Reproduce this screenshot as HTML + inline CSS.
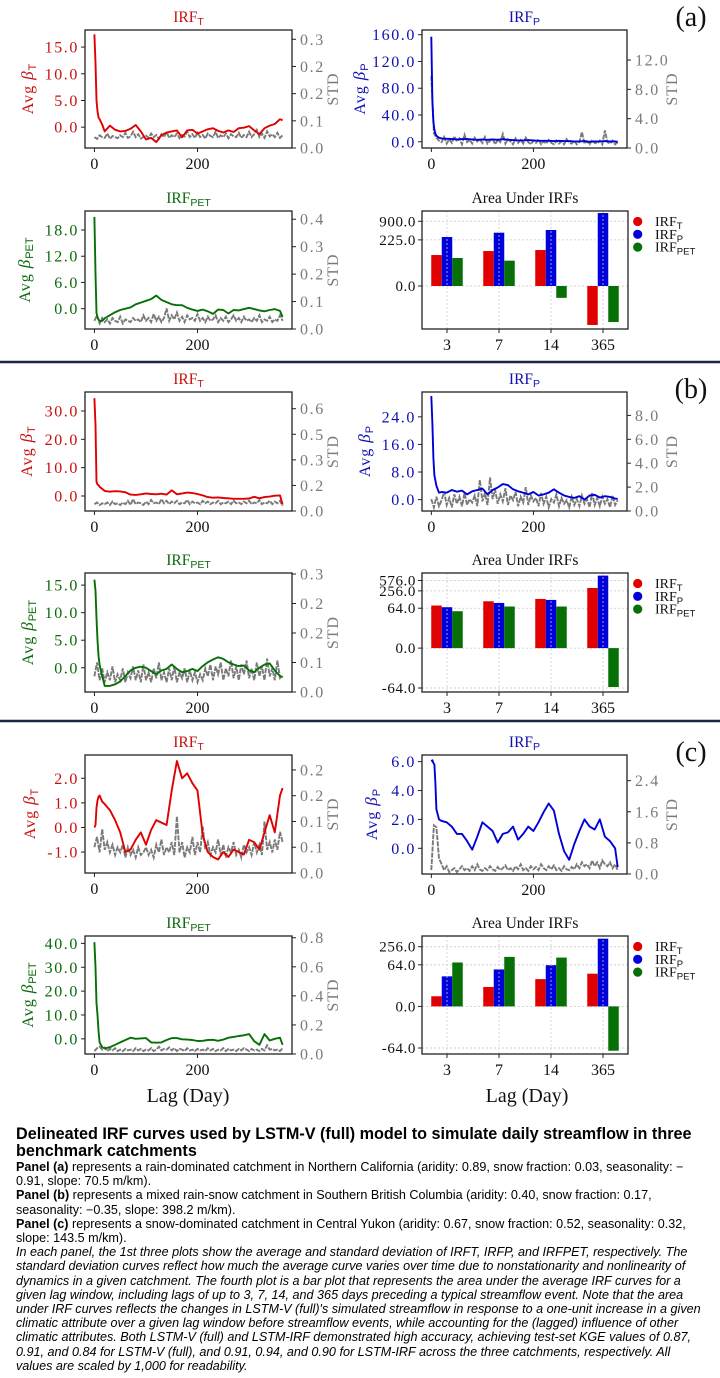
<!DOCTYPE html>
<html><head><meta charset="utf-8">
<style>
html,body{margin:0;padding:0;background:#fff;}
#wrap{position:relative;width:720px;height:1378px;overflow:hidden;background:#fff;}
svg text{font-family:"Liberation Serif",serif;}
#cap{position:absolute;left:16px;top:1126px;width:704px;font-family:"Liberation Sans",sans-serif;color:#000;white-space:nowrap;}
#cap .t{font-weight:bold;font-size:16.2px;line-height:17px;letter-spacing:0px;}
#cap .b{font-size:12.6px;line-height:14.2px;letter-spacing:0px;}
#cap i{font-style:italic;}
</style></head>
<body>
<div id="wrap">
<svg id="fig" width="720" height="1115" viewBox="0 0 720 1115" xmlns="http://www.w3.org/2000/svg" style="position:absolute;left:0;top:0"></svg>
<div id="cap">
<div class="t">Delineated IRF curves used by LSTM-V (full) model to simulate daily streamflow in three<br>benchmark catchments</div>
<div class="b">
<b>Panel (a)</b> represents a rain-dominated catchment in Northern California (aridity: 0.89, snow fraction: 0.03, seasonality: −<br>0.91, slope: 70.5 m/km).<br>
<b>Panel (b)</b> represents a mixed rain-snow catchment in Southern British Columbia (aridity: 0.40, snow fraction: 0.17,<br>seasonality: −0.35, slope: 398.2 m/km).<br>
<b>Panel (c)</b> represents a snow-dominated catchment in Central Yukon (aridity: 0.67, snow fraction: 0.52, seasonality: 0.32,<br>slope: 143.5 m/km).<br>
<i>In each panel, the 1st three plots show the average and standard deviation of IRFT, IRFP, and IRFPET, respectively. The<br>standard deviation curves reflect how much the average curve varies over time due to nonstationarity and nonlinearity of<br>dynamics in a given catchment. The fourth plot is a bar plot that represents the area under the average IRF curves for a<br>given lag window, including lags of up to 3, 7, 14, and 365 days preceding a typical streamflow event. Note that the area<br>under IRF curves reflects the changes in LSTM-V (full)'s simulated streamflow in response to a one-unit increase in a given<br>climatic attribute over a given lag window before streamflow events, while accounting for the (lagged) influence of other<br>climatic attributes. Both LSTM-V (full) and LSTM-IRF demonstrated high accuracy, achieving test-set KGE values of 0.87,<br>0.91, and 0.84 for LSTM-V (full), and 0.91, 0.94, and 0.90 for LSTM-IRF across the three catchments, respectively. All<br>values are scaled by 1,000 for readability.</i>
</div></div>
</div>
<script>
// ---------- DATA ----------
const lagDays = [0,2,4,6,8,10,15,20,30,40,50,60,70,80,90,100,110,120,130,140,150,160,170,180,190,200,210,220,230,240,250,260,270,280,290,300,310,320,330,340,350,360,365];
const stdDays = [0,5,10,15,20,25,30,35,40,45,50,55,60,65,70,75,80,85,90,95,100,105,110,115,120,125,130,135,140,145,150,155,160,165,170,175,180,185,190,195,200,205,210,215,220,225,230,235,240,245,250,255,260,265,270,275,280,285,290,295,300,305,310,315,320,325,330,335,340,345,350,355,360,365];

const aT_avg = [17.4,12,5,3,1.8,1.5,0.5,-0.8,0.3,-0.5,-0.8,-0.7,-0.3,0.4,-0.8,-2.3,-2.0,-2.8,-1.5,-1.0,-0.8,-0.6,-1.9,-0.6,-0.5,-1.2,-0.8,-0.4,-0.2,-0.7,-1.0,-0.6,-0.9,-0.2,-0.1,0.2,-0.6,-1.3,-0.2,0.3,0.6,1.5,1.3];
const aP_avg = [157,60,30,18,12,9,6,5,4.5,4,3.5,4,4,3.5,3,3.5,3,3.5,3,4,3,2.5,2,2,2.5,2,1.5,1.5,1.5,1,1.5,1,1,0.5,0.5,1,0,0.5,0.5,1,0.5,0.5,0];
const aPET_avg = [21,8,-1,-2,-2.5,-2.8,-2.8,-2.2,-1.5,-0.8,-0.3,0,0.3,1.0,1.4,1.8,2.2,3.0,2.0,1.5,1.0,0.8,0.8,0.2,-0.2,-0.5,-0.2,-0.6,-1.2,-0.2,-0.3,-1.1,-0.3,-0.4,-0.1,0.2,-0.1,-0.4,-0.6,-0.3,-0.1,-0.5,-1.9];
const bT_avg = [34.5,25,5,4,3.8,3.2,2.5,1.8,1.5,1.7,1.6,1.3,0.5,0.4,0.6,0.9,0.7,0.6,0.8,0.5,2.0,0.6,0.9,1.2,1.0,0.7,0.2,-0.4,-0.6,-0.5,-0.7,-0.8,-1.0,-1.0,-1.0,-0.9,-0.3,-0.8,-0.4,-0.2,0.1,0.2,-3.0];
const bP_avg = [30,22,12,7,5.5,4,2,2.2,2.0,2.8,2.3,2.6,1.5,2.4,2.8,3.2,1.5,2.8,3.5,4.5,4.2,3.0,2.4,2.0,1.5,2.2,1.2,1.5,2.0,3.0,2.0,1.2,0.8,0.5,1.0,0.0,1.2,1.4,0.6,1.0,0.8,0.3,0.2];
const bPET_avg = [16,14,9,5,2,0.5,-1.5,-3.3,-3.3,-3.0,-2.5,-1.5,-0.5,0,0.2,0.0,-0.6,-1.2,-0.5,-0.2,0.6,-0.2,-0.8,-0.6,-0.2,-0.6,0.3,1.0,1.5,1.9,1.6,1.0,0.6,0.3,0.4,-0.5,-0.8,0.0,0.6,0.8,-0.5,-1.5,-1.7];
const cT_avg = [0,0.1,0.8,1.1,1.25,1.3,1.05,0.95,0.7,0.3,-0.2,-1.0,-0.9,-0.5,-0.2,-0.7,-0.1,0.3,0.2,0.1,1.5,2.7,2.0,2.2,1.8,1.5,-0.3,-1.0,-1.2,-1.3,-1.0,-1.2,-0.9,-1.0,-1.1,-0.5,-0.6,-0.9,-0.2,0.5,-0.2,1.3,1.6];
const cP_avg = [6.0,6.1,5.9,5.8,4.5,2.7,2.0,1.9,1.8,1.5,1.0,1.0,0.5,-0.1,0.8,1.8,1.5,1.2,0.4,1.0,1.1,1.5,0.6,1.0,1.5,1.2,1.8,2.5,3.1,2.6,1.0,-0.2,-0.8,0.3,1.2,2.0,1.5,1.3,2.0,0.8,0.5,0.0,-1.3];
const cPET_avg = [40.5,30,15,10,3,-1.5,-3.5,-4,-3.5,-2.5,-1.5,-0.5,0.5,0,0.2,0.3,-1.5,-1.6,-1.5,-0.5,0.3,0.3,-0.2,-0.3,-0.5,-0.9,-0.8,-0.5,-0.4,-0.8,-0.3,0.5,0.8,1.2,1.5,2.0,-1.0,-2.5,2.0,-0.7,0.0,0.5,-2.5];

const aT_std = [0.03,0.025,0.035,0.03,0.028,0.04,0.025,0.033,0.03,0.027,0.035,0.03,0.042,0.028,0.032,0.045,0.03,0.038,0.026,0.03,0.034,0.028,0.04,0.03,0.036,0.025,0.038,0.03,0.044,0.028,0.035,0.03,0.04,0.027,0.036,0.032,0.045,0.03,0.038,0.028,0.042,0.03,0.036,0.026,0.04,0.033,0.03,0.045,0.028,0.035,0.03,0.04,0.027,0.038,0.032,0.03,0.042,0.028,0.036,0.03,0.045,0.03,0.038,0.05,0.03,0.04,0.028,0.046,0.032,0.038,0.03,0.042,0.028,0.035];
const aP_std = [9.8,2.0,1.4,1.0,0.8,1.5,0.6,1.2,0.7,1.6,0.9,1.3,0.5,1.8,0.8,1.1,0.6,1.4,0.9,1.2,0.7,1.5,0.6,1.0,1.3,0.5,1.1,0.8,1.9,0.6,1.2,0.9,0.5,1.3,0.7,1.1,0.6,1.4,0.8,0.5,1.0,0.7,1.2,0.5,0.9,0.6,1.1,0.7,0.5,1.0,0.6,0.9,0.5,1.2,0.7,0.6,1.0,0.5,0.8,2.2,0.6,0.9,0.5,1.1,0.7,0.6,1.0,0.5,2.4,0.8,0.6,1.0,0.5,0.8];
const aPET_std = [0.03,0.05,0.02,0.04,0.025,0.035,0.02,0.04,0.03,0.025,0.045,0.02,0.035,0.03,0.025,0.04,0.03,0.035,0.025,0.05,0.03,0.04,0.025,0.055,0.03,0.045,0.025,0.04,0.075,0.03,0.05,0.035,0.06,0.03,0.045,0.025,0.05,0.035,0.04,0.03,0.055,0.03,0.04,0.025,0.045,0.03,0.035,0.05,0.025,0.04,0.03,0.045,0.025,0.035,0.05,0.03,0.04,0.025,0.045,0.03,0.035,0.025,0.04,0.03,0.05,0.025,0.035,0.03,0.045,0.025,0.035,0.03,0.05,0.03];
const bT_std = [0.04,0.05,0.035,0.045,0.04,0.05,0.035,0.055,0.04,0.045,0.035,0.05,0.04,0.06,0.035,0.07,0.04,0.05,0.045,0.035,0.055,0.04,0.065,0.045,0.05,0.04,0.07,0.045,0.06,0.04,0.055,0.045,0.06,0.04,0.05,0.045,0.065,0.04,0.055,0.045,0.05,0.04,0.06,0.045,0.055,0.04,0.05,0.045,0.06,0.04,0.05,0.045,0.055,0.04,0.06,0.045,0.05,0.04,0.055,0.045,0.06,0.04,0.05,0.045,0.065,0.04,0.05,0.045,0.06,0.04,0.055,0.045,0.06,0.03];
const bP_std = [1.0,0.3,1.2,0.4,0.9,1.6,0.5,1.1,0.3,1.4,0.6,1.2,0.4,1.5,0.5,1.0,0.7,1.3,0.4,2.6,0.8,1.5,0.5,2.8,1.0,1.8,0.6,1.4,0.8,1.9,0.5,1.3,0.9,1.6,0.4,1.2,0.7,2.0,0.5,1.3,0.8,1.1,0.4,1.5,0.6,1.2,0.3,1.0,0.7,1.4,0.4,1.1,0.6,0.9,0.3,1.2,0.5,1.0,0.4,1.3,0.6,1.0,0.3,1.5,0.5,1.1,0.4,1.2,0.6,1.0,0.3,1.3,0.5,0.9];
const bPET_std = [0.04,0.075,0.03,0.06,0.025,0.05,0.03,0.065,0.025,0.045,0.03,0.06,0.025,0.05,0.035,0.065,0.03,0.055,0.025,0.07,0.03,0.05,0.025,0.06,0.035,0.075,0.03,0.05,0.025,0.06,0.03,0.065,0.025,0.05,0.035,0.06,0.025,0.055,0.03,0.05,0.025,0.045,0.03,0.06,0.04,0.07,0.03,0.065,0.045,0.075,0.03,0.06,0.04,0.08,0.035,0.065,0.03,0.07,0.045,0.08,0.035,0.06,0.03,0.075,0.04,0.065,0.03,0.085,0.04,0.06,0.03,0.08,0.035,0.04];
const cT_std = [0.05,0.07,0.04,0.085,0.045,0.06,0.04,0.055,0.035,0.05,0.04,0.055,0.03,0.05,0.035,0.045,0.03,0.05,0.035,0.04,0.05,0.035,0.045,0.03,0.055,0.04,0.065,0.035,0.05,0.04,0.06,0.035,0.11,0.04,0.06,0.03,0.05,0.04,0.07,0.035,0.06,0.04,0.09,0.045,0.06,0.035,0.05,0.04,0.065,0.035,0.055,0.03,0.05,0.04,0.06,0.035,0.045,0.03,0.055,0.04,0.05,0.035,0.06,0.04,0.055,0.035,0.1,0.045,0.06,0.04,0.065,0.045,0.08,0.06];
const cP_std = [0.1,1.25,1.2,0.4,0.25,0.1,0.2,0.05,0.1,0.15,0.05,0.12,0.2,0.1,0.15,0.08,0.2,0.1,0.25,0.12,0.08,0.15,0.1,0.2,0.12,0.08,0.18,0.1,0.15,0.22,0.1,0.15,0.08,0.2,0.12,0.25,0.1,0.15,0.08,0.2,0.12,0.18,0.1,0.25,0.15,0.1,0.2,0.12,0.22,0.1,0.15,0.08,0.2,0.12,0.1,0.18,0.12,0.25,0.15,0.3,0.2,0.25,0.15,0.35,0.2,0.3,0.15,0.35,0.25,0.2,0.3,0.15,0.25,0.1];
const cPET_std = [0.02,0.04,0.05,0.03,0.045,0.02,0.035,0.025,0.04,0.02,0.03,0.02,0.035,0.025,0.03,0.02,0.04,0.025,0.035,0.02,0.03,0.025,0.04,0.02,0.03,0.05,0.025,0.035,0.03,0.045,0.025,0.04,0.02,0.035,0.03,0.02,0.04,0.025,0.03,0.02,0.035,0.025,0.03,0.02,0.04,0.025,0.035,0.02,0.03,0.025,0.04,0.02,0.035,0.025,0.03,0.02,0.035,0.025,0.04,0.03,0.02,0.035,0.025,0.03,0.02,0.035,0.025,0.06,0.03,0.035,0.025,0.03,0.02,0.04];

const barCategories = ["3","7","14","365"];
const aBarT = [69,95,103,-130];
const aBarP = [279,386,472,1650];
const aBarPET = [54,43,-11,-103];
const bBarT = [79.6,112,135,321];
const bBarP = [69.5,98,125,846];
const bBarPET = [50,73.5,73.5,-59];
const cBarT = [3.4,9.8,20,31.5];
const cBarP = [25.3,44.5,62,468];
const cBarPET = [76.7,118,112,-79];
const xTickValues = [0,200];

// ---------- STYLE / LAYOUT ----------
const RED="#e00000", BLUE="#0000d8", GREEN="#067006", GRAY="#7a7a7a";
const TRED="#c81010", TBLUE="#1010b0", TGREEN="#0a6a0a";
const X0=-18.3, X1=383.3;
const NS="http://www.w3.org/2000/svg";
const svg=document.getElementById('fig');
function mk(tag,attrs,parent){const e=document.createElementNS(NS,tag);for(const k in attrs)e.setAttribute(k,attrs[k]);(parent||svg).appendChild(e);return e;}
function xScale(b,d){return b[0]+(d-X0)/(X1-X0)*b[2];}
function yScale(b,lim,v){return b[1]+b[3]-(v-lim[0])/(lim[1]-lim[0])*b[3];}
let clipId=0;

function subText(parent,x,y,main,sub,size,color,anchor,name){
  const t=mk('text',{x:x,y:y,'font-size':size,fill:color,'text-anchor':anchor||'middle'},parent);
  
  
  t.appendChild(document.createTextNode(main));
  const s=mk('tspan',{dy:3,'font-size':size*0.68,'font-family':'Liberation Sans, sans-serif'},t);
  s.textContent=sub;
  return t;
}

function drawLine(c){
  const b=c.box;
  const g=mk('g',{});
  
  
  const id='clip'+(clipId++);
  const cp=mk('clipPath',{id:id},g);
  mk('rect',{x:b[0],y:b[1],width:b[2],height:b[3]},cp);
  let pts=stdDays.map((d,i)=>xScale(b,d).toFixed(1)+','+yScale(b,c.rlim,c.std[i]).toFixed(1)).join(' ');
  const sl=mk('polyline',{points:pts,fill:'none',stroke:GRAY,'stroke-width':1.9,'stroke-dasharray':'5 1.2','clip-path':'url(#'+id+')'},g);
  
  
  pts=lagDays.map((d,i)=>xScale(b,d).toFixed(1)+','+yScale(b,c.lim,c.avg[i]).toFixed(1)).join(' ');
  const al=mk('polyline',{points:pts,fill:'none',stroke:c.color,'stroke-width':1.9,'stroke-linejoin':'round','clip-path':'url(#'+id+')'},g);
  
  
  const fr=mk('rect',{x:b[0],y:b[1],width:b[2],height:b[3],fill:'none',stroke:'#222','stroke-width':1.3},g);
  
  
  c.ticks.forEach(v=>{
    const y=yScale(b,c.lim,v);
    mk('line',{x1:b[0]-4,x2:b[0],y1:y,y2:y,stroke:'#222','stroke-width':1},g);
    const t=mk('text',{x:b[0]-6,y:y+5.5,'font-size':16,fill:c.tcolor,'text-anchor':'end','letter-spacing':1.6},g);
    
    
    t.textContent=v.toFixed(1);
  });
  c.rticks.forEach((v,i)=>{
    const y=yScale(b,c.rlim,v);
    mk('line',{x1:b[0]+b[2],x2:b[0]+b[2]+4,y1:y,y2:y,stroke:'#222','stroke-width':1},g);
    const t=mk('text',{x:b[0]+b[2]+8,y:y+5.5,'font-size':16,fill:GRAY,'letter-spacing':1.6},g);
    
    
    t.textContent=c.rlabels[i];
  });
  xTickValues.forEach(v=>{
    const x=xScale(b,v);
    mk('line',{x1:x,x2:x,y1:b[1]+b[3],y2:b[1]+b[3]+4,stroke:'#222','stroke-width':1},g);
    const t=mk('text',{x:x,y:b[1]+b[3]+21,'font-size':16,fill:'#111','text-anchor':'middle'},g);
    
    
    t.textContent=String(v);
  });
  subText(g,b[0]+b[2]/2,b[1]-8,'IRF',c.sub,15.5,c.tcolor,'middle','chart-title');
  const cy=b[1]+b[3]/2;
  const yl=mk('text',{x:0,y:0,'font-size':16,fill:c.tcolor,'text-anchor':'middle','letter-spacing':1,transform:'translate('+(c.ylx+5)+','+cy+') rotate(-90)'},g);
  
  
  yl.appendChild(document.createTextNode('Avg '));
  const bt=mk('tspan',{'font-style':'italic','font-size':17},yl); bt.textContent='β';
  const bs=mk('tspan',{dy:3,'font-size':11,'font-family':'Liberation Sans, sans-serif','letter-spacing':0},yl); bs.textContent=c.sub;
  const rl=mk('text',{x:0,y:0,'font-size':16,fill:GRAY,'text-anchor':'middle','letter-spacing':1,transform:'translate('+(b[0]+b[2]+c.rlx+5)+','+cy+') rotate(-90)'},g);
  
  
  rl.textContent='STD';
}

function drawBars(c){
  const b=c.box;
  const g=mk('g',{});
  
  
  const yv=v=>{const t=Math.sign(v)*Math.log10(1+Math.abs(v)/c.lin);return b[1]+b[3]-(t-c.tlim[0])/(c.tlim[1]-c.tlim[0])*b[3];};
  const xc=i=>b[0]+25+i*52;
  const bw=10.5;
  barCategories.forEach((cat,i)=>{mk('line',{x1:xc(i),x2:xc(i),y1:b[1],y2:b[1]+b[3],stroke:'#c8c8c8','stroke-width':0.8,'stroke-dasharray':'2 2'},g);});
  c.ticks.forEach(v=>{const y=yv(v);mk('line',{x1:b[0],x2:b[0]+b[2],y1:y,y2:y,stroke:'#c8c8c8','stroke-width':0.8,'stroke-dasharray':'2 2'},g);});
  const series=[[c.t,RED,-1,'bar-irf-t'],[c.p,BLUE,0,'bar-irf-p'],[c.pet,GREEN,1,'bar-irf-pet']];
  series.forEach(s=>{
    s[0].forEach((v,i)=>{
      const y=yv(v), y0=yv(0);
      const r=mk('rect',{x:xc(i)+s[2]*bw-bw/2,y:Math.min(y,y0),width:bw,height:Math.abs(y0-y),fill:s[1]},g);
      
      
    });
  });
  barCategories.forEach((cat,i)=>{mk('line',{x1:xc(i),x2:xc(i),y1:b[1],y2:b[1]+b[3],stroke:'#d8d8ff','stroke-width':0.7,'stroke-dasharray':'2 2'},g);});
  const fr=mk('rect',{x:b[0],y:b[1],width:b[2],height:b[3],fill:'none',stroke:'#222','stroke-width':1.3},g);
  
  
  c.ticks.forEach(v=>{
    const y=yv(v);
    mk('line',{x1:b[0]-4,x2:b[0],y1:y,y2:y,stroke:'#222','stroke-width':1},g);
    const t=mk('text',{x:b[0]-6,y:y+5,'font-size':15,fill:'#111','text-anchor':'end','letter-spacing':0.6},g);
    
    
    t.textContent=v.toFixed(1);
  });
  barCategories.forEach((cat,i)=>{
    mk('line',{x1:xc(i),x2:xc(i),y1:b[1]+b[3],y2:b[1]+b[3]+4,stroke:'#222','stroke-width':1},g);
    const t=mk('text',{x:xc(i),y:b[1]+b[3]+21,'font-size':16,fill:'#111','text-anchor':'middle'},g);
    
    
    t.textContent=cat;
  });
  const tt=mk('text',{x:b[0]+b[2]/2,y:b[1]-8,'font-size':15.5,fill:'#111','text-anchor':'middle'},g);
  
  
  tt.textContent='Area Under IRFs';
  const leg=[['T',RED],['P',BLUE],['PET',GREEN]];
  leg.forEach((l,i)=>{
    const y=b[1]+10.5+i*12.8;
    const dot=mk('circle',{cx:637.7,cy:y,r:4.6,fill:l[1]},g);
    
    
    subText(g,655,y+4.5,'IRF',l[0],14,'#111','start','legend-entry-'+l[0].toLowerCase());
  });
}

const L=[85,207], R=[422,205];
const lineCharts=[
 {name:'panel-a-irf-t',box:[L[0],30,L[1],118],color:RED,tcolor:TRED,sub:'T',lim:[-3.9,18.2],ticks:[0,5,10,15],rlim:[0,0.3256],rticks:[0,0.075,0.15,0.225,0.3],rlabels:['0.0','0.1','0.2','0.2','0.3'],avg:aT_avg,std:aT_std,ylx:28,rlx:41},
 {name:'panel-a-irf-p',box:[R[0],30,R[1],118],color:BLUE,tcolor:TBLUE,sub:'P',lim:[-9.3,167],ticks:[0,40,80,120,160],rlim:[0,16.1],rticks:[0,4,8,12],rlabels:['0.0','4.0','8.0','12.0'],avg:aP_avg,std:aP_std,ylx:360,rlx:45},
 {name:'panel-a-irf-pet',box:[L[0],211,L[1],118],color:GREEN,tcolor:TGREEN,sub:'PET',lim:[-4.65,22.35],ticks:[0,6,12,18],rlim:[0,0.43],rticks:[0,0.1,0.2,0.3,0.4],rlabels:['0.0','0.1','0.2','0.3','0.4'],avg:aPET_avg,std:aPET_std,ylx:25,rlx:41},
 {name:'panel-b-irf-t',box:[L[0],392,L[1],119],color:RED,tcolor:TRED,sub:'T',lim:[-5.3,36.7],ticks:[0,10,20,30],rlim:[0,0.698],rticks:[0,0.15,0.3,0.45,0.6],rlabels:['0.0','0.2','0.3','0.5','0.6'],avg:bT_avg,std:bT_std,ylx:27,rlx:41},
 {name:'panel-b-irf-p',box:[R[0],392,R[1],119],color:BLUE,tcolor:TBLUE,sub:'P',lim:[-3.3,31.2],ticks:[0,8,16,24],rlim:[0,9.96],rticks:[0,2,4,6,8],rlabels:['0.0','2.0','4.0','6.0','8.0'],avg:bP_avg,std:bP_std,ylx:365,rlx:45},
 {name:'panel-b-irf-pet',box:[L[0],573,L[1],119],color:GREEN,tcolor:TGREEN,sub:'PET',lim:[-4.4,17.2],ticks:[0,5,10,15],rlim:[0,0.3026],rticks:[0,0.075,0.15,0.225,0.3],rlabels:['0.0','0.1','0.2','0.2','0.3'],avg:bPET_avg,std:bPET_std,ylx:28,rlx:41},
 {name:'panel-c-irf-t',box:[L[0],755,L[1],118],color:RED,tcolor:TRED,sub:'T',lim:[-1.85,2.945],ticks:[-1,0,1,2],rlim:[0,0.229],rticks:[0,0.05,0.1,0.15,0.2],rlabels:['0.0','0.1','0.1','0.2','0.2'],avg:cT_avg,std:cT_std,ylx:30,rlx:41},
 {name:'panel-c-irf-p',box:[R[0],755,R[1],119],color:BLUE,tcolor:TBLUE,sub:'P',lim:[-1.78,6.46],ticks:[0,2,4,6],rlim:[0,3.06],rticks:[0,0.8,1.6,2.4],rlabels:['0.0','0.8','1.6','2.4'],avg:cP_avg,std:cP_std,ylx:372,rlx:45},
 {name:'panel-c-irf-pet',box:[L[0],936,L[1],118],color:GREEN,tcolor:TGREEN,sub:'PET',lim:[-6.35,43.1],ticks:[0,10,20,30,40],rlim:[0,0.812],rticks:[0,0.2,0.4,0.6,0.8],rlabels:['0.0','0.2','0.4','0.6','0.8'],avg:cPET_avg,std:cPET_std,ylx:28,rlx:41}
];
lineCharts.forEach(drawLine);

const barCharts=[
 {name:'panel-a-area-under-irfs',box:[422,211,206,118],lin:8,tlim:[-1.365,2.381],ticks:[0,225,900],t:aBarT,p:aBarP,pet:aBarPET},
 {name:'panel-b-area-under-irfs',box:[422,573,206,119],lin:3,tlim:[-1.484,2.54],ticks:[-64,0,64,256,576],t:bBarT,p:bBarP,pet:bBarPET},
 {name:'panel-c-area-under-irfs',box:[422,936,206,118],lin:3,tlim:[-1.543,2.283],ticks:[-64,0,64,256],t:cBarT,p:cBarP,pet:cBarPET}
];
barCharts.forEach(drawBars);

[['(a)',26],['(b)',398],['(c)',761]].forEach(p=>{
  const t=mk('text',{x:691,y:p[1],'font-size':28,fill:'#111','text-anchor':'middle'});
  
  
  t.textContent=p[0];
});
[362,721].forEach(y=>{
  const l=mk('line',{x1:0,x2:720,y1:y,y2:y,stroke:'#1d2742','stroke-width':2.6});
  
  
});
[[188,1102],[527,1102]].forEach(p=>{
  const t=mk('text',{x:p[0],y:p[1],'font-size':20,fill:'#111','text-anchor':'middle'});
  
  
  t.textContent='Lag (Day)';
});
</script>
</body></html>
